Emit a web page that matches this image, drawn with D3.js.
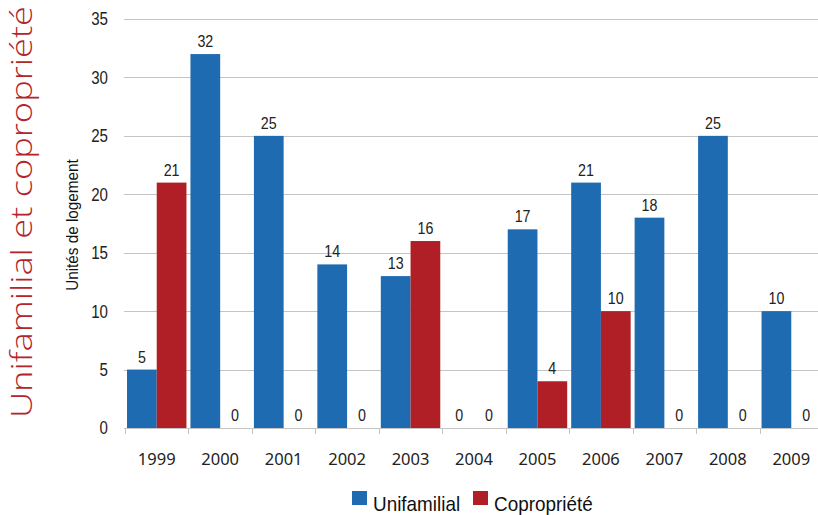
<!DOCTYPE html>
<html>
<head>
<meta charset="utf-8">
<script src="https://cdn.jsdelivr.net/npm/d3@7"></script>
<style>
  body { margin: 0; background: #fff; }
  svg { display: block; }
</style>
</head>
<body>
<svg id="chart"></svg>
<script>
const years = ['1999', '2000', '2001', '2002', '2003', '2004', '2005', '2006', '2007', '2008', '2009'];
const unifamilial = [5, 32, 25, 14, 13, 0, 17, 21, 18, 25, 10];
const copropriete = [21, 0, 0, 0, 16, 0, 4, 10, 0, 0, 0];
const seriesNames = ['Unifamilial', 'Copropriété'];
const yTicks = [0, 5, 10, 15, 20, 25, 30, 35];

const colors = ['#1f6bb1', '#b01f25'];
const W = 818, H = 515;
const plot = { left: 125, right: 823, top: 19, bottom: 428 };
// no narrow font installed, so squeeze Liberation Sans horizontally
const narrow = "'Liberation Sans', Arial, sans-serif";
const sq = 0.84;

const svg = d3.select('#chart').attr('width', W).attr('height', H);

const x = d3.scaleBand().domain(years).range([plot.left, plot.right]);
const inner = d3.scaleBand().domain(seriesNames).range([2, x.bandwidth() - 2]);
const y = d3.scaleLinear().domain([0, 35]).range([plot.bottom, plot.top]);

// gridlines
svg.append('g')
   .selectAll('line')
   .data(yTicks)
   .enter()
   .append('line')
   .attr('x1', plot.left - 1)
   .attr('x2', W)
   .attr('y1', d => Math.round(y(d)) + 0.5)
   .attr('y2', d => Math.round(y(d)) + 0.5)
   .attr('stroke', '#c4c4c4')
   .attr('stroke-width', 1);

// y tick labels
svg.append('g')
   .selectAll('text')
   .data(yTicks)
   .enter()
   .append('text')
   .attr('transform', d => `translate(108,${y(d)}) scale(${sq},1)`)
   .attr('dy', '0.36em')
   .attr('text-anchor', 'end')
   .style('font-family', narrow)
   .style('font-size', '18px')
   .style('fill', '#222')
   .text(d => d);

// x ticks at band edges
const edges = years.map(d => x(d)).concat([x(years[years.length - 1]) + x.bandwidth()]);
svg.append('g')
   .selectAll('line')
   .data(edges)
   .enter()
   .append('line')
   .attr('x1', d => Math.round(d) + 0.5)
   .attr('x2', d => Math.round(d) + 0.5)
   .attr('y1', plot.bottom)
   .attr('y2', plot.bottom + 6)
   .attr('stroke', '#c4c4c4');

// x labels
svg.append('g')
   .selectAll('text')
   .data(years)
   .enter()
   .append('text')
   .attr('x', d => x(d) + x.bandwidth() / 2)
   .attr('y', 465)
   .attr('text-anchor', 'middle')
   .style('font-family', "'Noto Sans', sans-serif")
   .style('font-size', '16.5px')
   .style('fill', '#222')
   .text(d => d);

// bars
const rows = years.map((yr, i) => ({ year: yr, values: [unifamilial[i], copropriete[i]] }));
const groups = svg.append('g')
   .selectAll('g')
   .data(rows)
   .enter()
   .append('g')
   .attr('transform', d => `translate(${x(d.year)},0)`);

groups.selectAll('rect')
   .data(d => d.values.map((v, k) => ({ name: seriesNames[k], value: v, k })))
   .enter()
   .append('rect')
   .attr('x', d => inner(d.name))
   .attr('width', inner.bandwidth())
   .attr('y', d => y(d.value))
   .attr('height', d => plot.bottom - y(d.value))
   .attr('fill', d => colors[d.k]);

groups.selectAll('text')
   .data(d => d.values.map((v, k) => ({ name: seriesNames[k], value: v })))
   .enter()
   .append('text')
   .attr('transform', d => `translate(${inner(d.name) + inner.bandwidth() / 2},${y(d.value) - 7}) scale(${sq},1)`)
   .attr('text-anchor', 'middle')
   .style('font-family', narrow)
   .style('font-size', '17px')
   .style('fill', '#222')
   .text(d => d.value);

// y axis title
svg.append('text')
   .attr('transform', 'translate(78,225) rotate(-90) scale(0.9,1)')
   .attr('text-anchor', 'middle')
   .style('font-family', narrow)
   .style('font-size', '17px')
   .style('fill', '#111')
   .text('Unités de logement');

// left big title
svg.append('text')
   .attr('transform', 'translate(32,212) rotate(-90)')
   .attr('text-anchor', 'middle')
   .attr('textLength', 412)
   .attr('lengthAdjust', 'spacingAndGlyphs')
   .style('font-family', "'Open Sans', sans-serif")
   .style('font-weight', 300)
   .style('font-size', '29px')
   .style('fill', '#b3242b')
   .text('Unifamilial et copropriété');

// legend
const legend = svg.append('g').attr('transform', 'translate(352,491)');
const legX = [0, 121];
seriesNames.forEach((name, i) => {
  legend.append('rect')
        .attr('x', legX[i])
        .attr('y', 0)
        .attr('width', 15)
        .attr('height', 14)
        .attr('fill', colors[i]);
  legend.append('text')
        .attr('transform', `translate(${legX[i] + 21},20) scale(0.9,1)`)
        .style('font-family', narrow)
        .style('font-size', '21px')
        .style('fill', '#111')
        .text(name);
});
</script>
</body>
</html>
